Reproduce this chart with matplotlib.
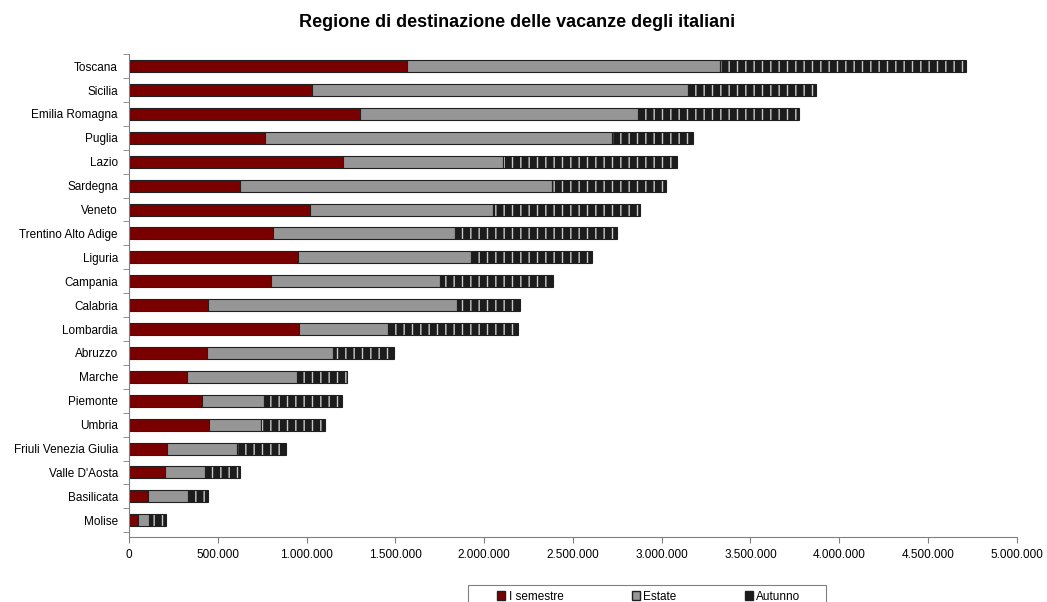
import matplotlib
matplotlib.use("Agg")
import matplotlib.pyplot as plt
from matplotlib.patches import Patch, Rectangle
from matplotlib.ticker import FuncFormatter, FixedLocator

plt.rcParams['font.family'] = ['Liberation Sans', 'DejaVu Sans']
plt.rcParams['hatch.linewidth'] = 1.0

regioni = ["Toscana", "Sicilia", "Emilia Romagna", "Puglia", "Lazio", "Sardegna",
           "Veneto", "Trentino Alto Adige", "Liguria", "Campania", "Calabria",
           "Lombardia", "Abruzzo", "Marche", "Piemonte", "Umbria",
           "Friuli Venezia Giulia", "Valle D'Aosta", "Basilicata", "Molise"]

# presenze per periodo
semestre = [1565000, 1030000, 1301000, 766000, 1205000, 625000, 1019000, 811000,
            952000, 800000, 445000, 957000, 439000, 327000, 411000, 450000,
            214000, 203000, 107000, 51000]
estate = [1763000, 2118000, 1565000, 1954000, 901000, 1757000, 1031000, 1025000,
          974000, 951000, 1402000, 501000, 710000, 619000, 349000, 293000,
          394000, 225000, 225000, 62000]
autunno = [1385000, 720000, 907000, 456000, 980000, 642000, 827000, 912000,
           681000, 636000, 355000, 732000, 343000, 281000, 439000, 361000,
           276000, 197000, 113000, 95000]

n = len(regioni)

fig = plt.figure(figsize=(10.47, 6.02), dpi=100)
ax = fig.add_axes([0.1232, 0.108, 0.848, 0.802])

y = list(range(n))
h = 0.5
rosso = "#7a0000"
grigio = "#969696"
scuro = "#1c1c1c"

ax.barh(y, semestre, height=h, color=rosso, edgecolor="#202020", linewidth=0.8)
ax.barh(y, estate, left=semestre, height=h, color=grigio, edgecolor="#202020", linewidth=0.8)
sx = [a + b for a, b in zip(semestre, estate)]
ax.barh(y, autunno, left=sx, height=h, color=scuro, edgecolor="#c8c8c8", hatch="||", linewidth=0)
ax.barh(y, autunno, left=sx, height=h, fill=False, edgecolor="#202020", linewidth=0.8)

ax.set_ylim(n - 0.3, -0.5)
ax.set_xlim(0, 5000000)
ax.set_yticks(y)
ax.set_yticklabels(regioni, fontsize=8.5)
ax.yaxis.set_minor_locator(FixedLocator([i - 0.5 for i in range(n + 1)]))
ax.tick_params(axis="y", which="major", length=0, pad=8)
ax.tick_params(axis="y", which="minor", length=4, color="#808080")

ax.set_xticks(range(0, 5000001, 500000))
ax.xaxis.set_major_formatter(FuncFormatter(lambda v, p: f"{int(v):,}".replace(",", ".")))
ax.tick_params(axis="x", length=4, color="#808080", labelsize=8.5, pad=5)

for s in ["top", "right"]:
    ax.spines[s].set_visible(False)
for s in ["left", "bottom"]:
    ax.spines[s].set_color("#808080")
    ax.spines[s].set_linewidth(0.8)

fig.text(0.494, 0.963, "Regione di destinazione delle vacanze degli italiani",
         ha="center", va="center", fontsize=13, fontweight="bold")

# legenda in basso, cornice disegnata a parte
handles = [Patch(facecolor=rosso, edgecolor="#202020", label="I semestre"),
           Patch(facecolor=grigio, edgecolor="#202020", label="Estate"),
           Patch(facecolor=scuro, edgecolor="#202020", label="Autunno")]
fig.legend(handles=handles, ncol=3, loc="upper left", mode="expand",
           bbox_to_anchor=(0.4747, -0.1, 0.290, 0.119), borderaxespad=0,
           fontsize=8.5, frameon=False, handlelength=0.7, handleheight=0.7,
           handletextpad=0.3, borderpad=0)
fig.patches.append(Rectangle((0.447, -0.05), 0.342, 0.078, transform=fig.transFigure,
                             fill=False, edgecolor="#808080", linewidth=0.8))

fig.savefig("out.png", dpi=100)
